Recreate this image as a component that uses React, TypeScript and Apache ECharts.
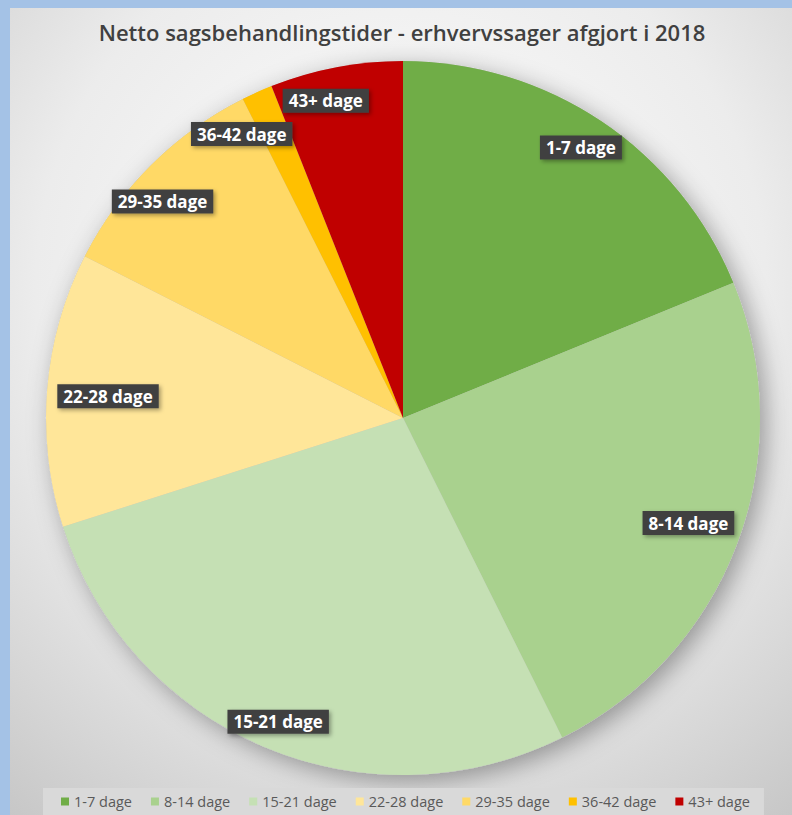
import React, { useEffect, useRef } from "react";
import * as echarts from "echarts";

const categories = ["1-7 dage", "8-14 dage", "15-21 dage", "22-28 dage", "29-35 dage", "36-42 dage", "43+ dage"];
const values = [18.8, 23.8, 27.4, 12.4, 10.1, 1.4, 6.0];
const colors = ["#70ad47", "#a9d18e", "#c5e0b4", "#ffe699", "#ffd966", "#ffc000", "#c00000"];
const title = "Netto sagsbehandlingstider - erhvervssager afgjort i 2018";
// small label nudges (dx, dy) applied after the library places each label
const labelNudge = [
  [-1, -4],
  [-15, -8],
  [0, 8],
  [25, 4],
  [-14, 11],
  [-30, 9],
  [-17, -2],
];

const FONT = "'Open Sans', 'Noto Sans', sans-serif";

export default function App() {
  const ref = useRef<HTMLDivElement>(null);
  useEffect(() => {
    document.body.style.margin = "0";
    if (!ref.current) return;
    const chart = echarts.init(ref.current, undefined, { renderer: "svg" });
    const data = categories.map((c, i) => ({ name: c, value: values[i], itemStyle: { color: colors[i] } }));
    const center = [393, 410];
    const R = 357;
    chart.setOption({
      animation: false,
      backgroundColor: {
        type: "radial",
        x: 0.5,
        y: 0.35,
        r: 0.85,
        colorStops: [
          { offset: 0, color: "#ffffff" },
          { offset: 0.55, color: "#ececec" },
          { offset: 1, color: "#c4c4c4" },
        ],
      },
      title: {
        text: title,
        left: 387,
        textAlign: "center",
        top: 8,
        textStyle: { fontFamily: FONT, fontSize: 22, fontWeight: 600, color: "#404040" },
      },
      legend: {
        data: categories,
        left: 33,
        top: 780,
        icon: "rect",
        itemWidth: 8,
        itemHeight: 8,
        itemGap: 19,
        backgroundColor: "#d9d9d9",
        padding: [6, 14, 6, 18],
        textStyle: { fontFamily: FONT, fontSize: 14.5, color: "#595959" },
      },
      series: [
        {
          type: "pie",
          name: "shadow",
          center,
          radius: R,
          silent: true,
          label: { show: false },
          labelLine: { show: false },
          data: [
            {
              name: "",
              value: 1,
              itemStyle: {
                color: "#bdbdbd",
                shadowBlur: 24,
                shadowOffsetX: 6,
                shadowOffsetY: 6,
                shadowColor: "rgba(0,0,0,0.35)",
              },
            },
          ],
        },
        {
          type: "pie",
          name: "main",
          center,
          radius: R,
          startAngle: 90,
          clockwise: true,
          label: { show: false },
          labelLine: { show: false },
          itemStyle: { borderWidth: 0 },
          data,
        },
        {
          type: "pie",
          name: "labels",
          center,
          radius: [304, 332],
          startAngle: 90,
          clockwise: true,
          silent: true,
          avoidLabelOverlap: false,
          itemStyle: { color: "rgba(0,0,0,0)", borderWidth: 0 },
          labelLine: { show: false },
          labelLayout: (p: any) => ({
            dx: labelNudge[p.dataIndex][0],
            dy: labelNudge[p.dataIndex][1],
            hideOverlap: false,
          }),
          label: {
            show: true,
            position: "inside",
            formatter: "{b}",
            fontFamily: FONT,
            fontSize: 17,
            fontWeight: "bold",
            color: "#ffffff",
            backgroundColor: "#404040",
            padding: [4, 6, 3, 6],
            shadowBlur: 4,
            shadowOffsetX: 2,
            shadowOffsetY: 2,
            shadowColor: "rgba(0,0,0,0.35)",
          },
          data: categories.map((c, i) => ({ name: c, value: values[i], itemStyle: { color: "rgba(0,0,0,0)" } })),
        },
      ],
    });
    return () => chart.dispose();
  }, []);
  return (
    <div style={{ position: "relative", width: 792, height: 815, background: "#a4c2e6", overflow: "hidden" }}>
      <div ref={ref} style={{ position: "absolute", left: 10, top: 8, width: 782, height: 807 }} />
    </div>
  );
}
